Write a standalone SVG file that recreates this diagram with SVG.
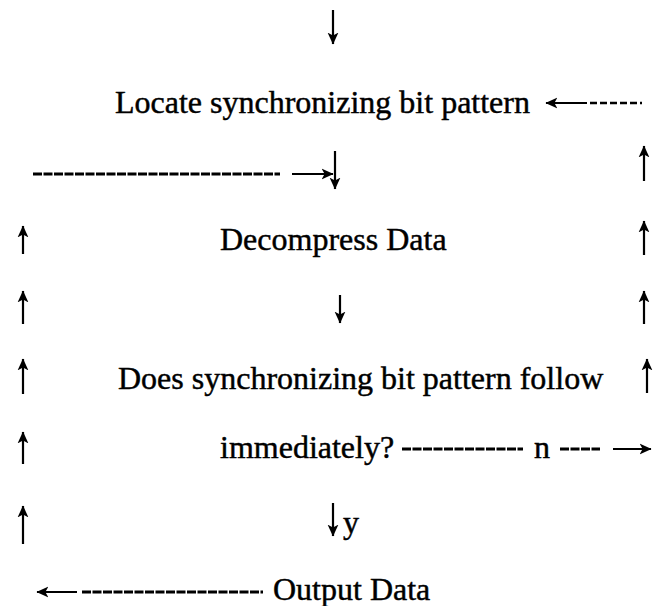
<svg xmlns="http://www.w3.org/2000/svg" width="654" height="606" viewBox="0 0 654 606">
<style>
  .t { font-family: "Liberation Serif", "Times New Roman", "DejaVu Serif", serif; font-size: 32px; fill: #000; stroke: #000; stroke-width: 0.45; }
  .lbl { font-family: "Liberation Serif", "Times New Roman", "DejaVu Serif", serif; font-size: 32px; fill: #000; stroke: #000; stroke-width: 0.45; }
  .arr { stroke: #000; stroke-width: 2.2; fill: none; marker-end: url(#head); }
  .dash { stroke: #000; stroke-width: 2.8; fill: none; stroke-dasharray: 9 1.5; }
  .dash2 { stroke: #000; stroke-width: 2.6; fill: none; stroke-dasharray: 7 3; }
</style>
<defs>
  <marker id="head" viewBox="0 0 10 10" refX="9.5" refY="5" markerWidth="12" markerHeight="12" markerUnits="userSpaceOnUse" orient="auto">
    <path d="M0,0.5 L10,5 L0,9.5 L2.5,5 z" fill="#000"/>
  </marker>
</defs>
<rect width="654" height="606" fill="#fff"/>

<g id="connectors">
  <!-- entry -->
  <line class="arr" x1="333" y1="10" x2="333" y2="44"/>
  <!-- loop back into Locate -->
  <line class="dash2" x1="590" y1="103" x2="642" y2="103"/>
  <line class="arr" x1="587" y1="103" x2="546" y2="103"/>
  <!-- right column up -->
  <line class="arr" x1="644" y1="181" x2="644" y2="146"/>
  <line class="arr" x1="644" y1="255" x2="644" y2="221"/>
  <line class="arr" x1="644" y1="324" x2="644" y2="291"/>
  <line class="arr" x1="647" y1="393" x2="647" y2="359"/>
  <!-- row 2 -->
  <line class="dash" x1="33" y1="174" x2="280" y2="174"/>
  <line class="arr" x1="292" y1="174" x2="333" y2="174"/>
  <line class="arr" x1="335" y1="151" x2="335" y2="189"/>
  <!-- left column up -->
  <line class="arr" x1="23" y1="254" x2="23" y2="226"/>
  <line class="arr" x1="23" y1="324" x2="23" y2="291"/>
  <line class="arr" x1="23" y1="394" x2="23" y2="359"/>
  <line class="arr" x1="23" y1="464" x2="23" y2="432"/>
  <line class="arr" x1="23" y1="544" x2="23" y2="506"/>
  <!-- decompress to decision -->
  <line class="arr" x1="340" y1="295" x2="340" y2="323"/>
  <!-- n branch -->
  <line class="dash" x1="402" y1="449" x2="523" y2="449"/>
  <text class="lbl" x="534" y="458">n</text>
  <line class="dash" x1="560" y1="449" x2="600" y2="449"/>
  <line class="arr" x1="613" y1="449" x2="651" y2="449"/>
  <!-- y branch -->
  <line class="arr" x1="333" y1="503" x2="333" y2="536"/>
  <text class="lbl" x="343" y="533">y</text>
  <!-- output back -->
  <line class="dash" x1="82" y1="592" x2="263" y2="592"/>
  <line class="arr" x1="77" y1="592" x2="37" y2="592"/>
</g>

<g id="locate">
  <text class="t" x="115" y="113">Locate synchronizing bit pattern</text>
</g>
<g id="decompress">
  <text class="t" x="220" y="250">Decompress Data</text>
</g>
<g id="decision">
  <text class="t" x="118" y="389">Does synchronizing bit pattern follow</text>
  <text class="t" x="220" y="458">immediately?</text>
</g>
<g id="output">
  <text class="t" x="273" y="600">Output Data</text>
</g>
</svg>
